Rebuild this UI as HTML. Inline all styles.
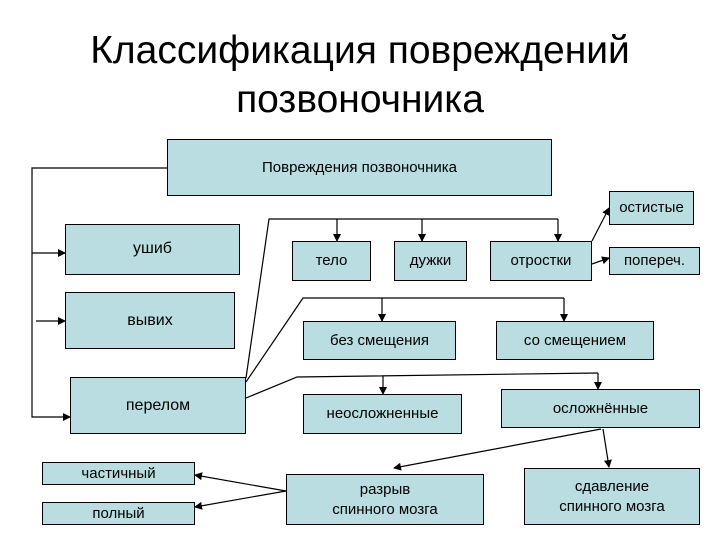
<!DOCTYPE html>
<html><head><meta charset="utf-8"><style>
body{margin:0;width:720px;height:540px;background:#fff;position:relative;overflow:hidden;font-family:"Liberation Sans",sans-serif}
.t{position:absolute;left:0;width:720px;text-align:center;font-size:39px;line-height:49px;top:26px;color:#000}
.b{position:absolute;background:#b9dde1;border:1px solid #000;box-sizing:border-box;display:flex;align-items:center;justify-content:center;text-align:center;font-size:15px;line-height:20px}
svg{position:absolute;left:0;top:0}
</style></head><body>
<div class="t">Классификация повреждений<br>позвоночника</div>
<svg width="720" height="540" viewBox="0 0 720 540">
<defs><marker id="a" markerWidth="8" markerHeight="8" refX="7" refY="4" orient="auto" markerUnits="userSpaceOnUse"><path d="M0,0L8,4L0,8z" fill="#000"/></marker></defs>
<g stroke="#000" stroke-width="1.2" fill="none">
<path d="M167,168H32V417H70" marker-end="url(#a)"/>
<path d="M32,253H65" marker-end="url(#a)"/>
<path d="M36,321H65" marker-end="url(#a)"/>
<path d="M246,378L269,219H558"/>
<path d="M337,219V241" marker-end="url(#a)"/>
<path d="M422,219V241" marker-end="url(#a)"/>
<path d="M558,219V241" marker-end="url(#a)"/>
<path d="M592,241L609,208" marker-end="url(#a)"/>
<path d="M592,264L609,258" marker-end="url(#a)"/>
<path d="M246,382L303,298H564"/>
<path d="M382,298V321" marker-end="url(#a)"/>
<path d="M564,298V321" marker-end="url(#a)"/>
<path d="M246,398L297,377L598,373"/>
<path d="M383,376V394" marker-end="url(#a)"/>
<path d="M598,373V389" marker-end="url(#a)"/>
<path d="M601,429L394,468" marker-end="url(#a)"/>
<path d="M603,429L609,467" marker-end="url(#a)"/>
<path d="M286,491L195,475" marker-end="url(#a)"/>
<path d="M286,491L195,507" marker-end="url(#a)"/>
</g></svg>
<div class="b" style="left:167px;top:139px;width:385px;height:57px">Повреждения позвоночника</div>
<div class="b" style="left:65px;top:224px;width:175px;height:51px;align-items:flex-start;padding-top:14px;font-size:16px">ушиб</div>
<div class="b" style="left:65px;top:292px;width:170px;height:57px;font-size:16px">вывих</div>
<div class="b" style="left:70px;top:377px;width:176px;height:57px;font-size:16px">перелом</div>
<div class="b" style="left:42px;top:462px;width:153px;height:23px">частичный</div>
<div class="b" style="left:42px;top:502px;width:153px;height:23px">полный</div>
<div class="b" style="left:292px;top:241px;width:79px;height:40px">тело</div>
<div class="b" style="left:394px;top:241px;width:73px;height:40px">дужки</div>
<div class="b" style="left:490px;top:241px;width:102px;height:40px">отростки</div>
<div class="b" style="left:609px;top:191px;width:85px;height:34px">остистые</div>
<div class="b" style="left:609px;top:247px;width:91px;height:28px">попереч.</div>
<div class="b" style="left:303px;top:321px;width:153px;height:39px">без смещения</div>
<div class="b" style="left:496px;top:321px;width:158px;height:39px">со смещением</div>
<div class="b" style="left:303px;top:394px;width:159px;height:40px">неосложненные</div>
<div class="b" style="left:501px;top:389px;width:199px;height:39px">осложнённые</div>
<div class="b" style="left:286px;top:474px;width:198px;height:51px">разрыв<br>спинного мозга</div>
<div class="b" style="left:524px;top:468px;width:176px;height:57px">сдавление<br>спинного мозга</div>
</body></html>
